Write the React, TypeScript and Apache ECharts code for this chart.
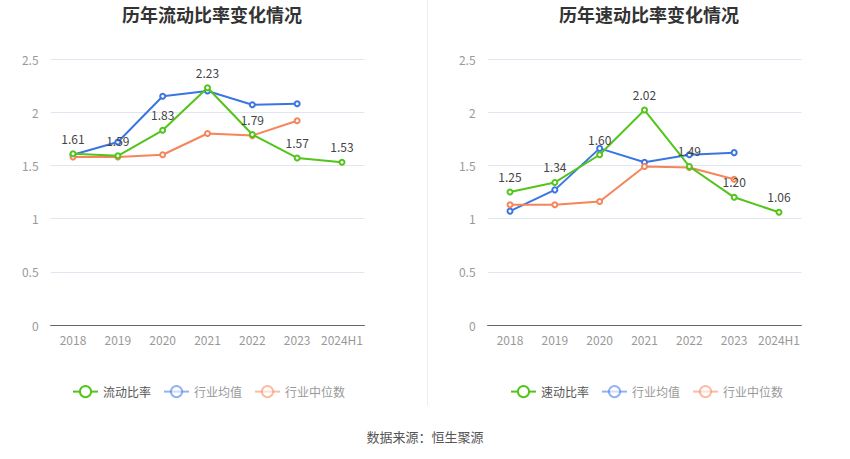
import React, { useEffect, useRef } from "react";
import * as echarts from "echarts";

const years = ["2018", "2019", "2020", "2021", "2022", "2023", "2024H1"];
const currentRatio = [1.61, 1.59, 1.83, 2.23, 1.79, 1.57, 1.53];
const currentMean = [1.6, 1.72, 2.15, 2.2, 2.07, 2.08];
const currentMedian = [1.58, 1.58, 1.6, 1.8, 1.78, 1.92];
const quickRatio = [1.25, 1.34, 1.6, 2.02, 1.49, 1.2, 1.06];
const quickMean = [1.07, 1.27, 1.66, 1.53, 1.6, 1.62];
const quickMedian = [1.13, 1.13, 1.16, 1.49, 1.48, 1.37];
const yTicks = [0, 0.5, 1, 1.5, 2, 2.5];

const FONT = "'Noto Sans CJK SC', 'Noto Sans', sans-serif";
const GREEN = "#52c41a";
const BLUE = "#3b75e3";
const ORANGE = "#f5855a";

export default function App() {
  const ref = useRef<HTMLDivElement>(null);
  useEffect(() => {
    document.body.style.margin = "0";
    const chart = echarts.init(ref.current!, null, { renderer: "svg" });
    const grids = [
      { left: 50.6, width: 313.8, top: 59, height: 266 },
      { left: 487.6, width: 313.8, top: 59, height: 266 },
    ];
    const mkX = (i: number) => ({
      type: "category",
      gridIndex: i,
      data: years,
      boundaryGap: true,
      axisLine: { lineStyle: { color: "#666" } },
      axisTick: { alignWithLabel: true, lineStyle: { color: "#666" } },
      axisLabel: { color: "#999", fontSize: 12, fontFamily: FONT, margin: 8, interval: 0 },
    });
    const mkY = (i: number) => ({
      type: "value",
      gridIndex: i,
      min: yTicks[0],
      max: yTicks[yTicks.length - 1],
      interval: 0.5,
      axisLine: { show: false },
      axisTick: { show: false },
      axisLabel: { color: "#999", fontSize: 12, fontFamily: FONT, margin: 12 },
      splitLine: { lineStyle: { color: "#e0e6f1" } },
    });
    const mkSeries = (name: string, data: number[], color: string, i: number, label: boolean) => ({
      type: "line",
      name,
      data,
      xAxisIndex: i,
      yAxisIndex: i,
      symbol: "emptyCircle",
      symbolSize: 5,
      lineStyle: { width: 2, color },
      itemStyle: { color, borderWidth: 1.5 },
      label: label
        ? {
            show: true,
            position: "top",
            color: "#444",
            fontSize: 12,
            fontFamily: FONT,
            distance: 6,
            formatter: (p: any) => Number(p.value).toFixed(2),
          }
        : { show: false },
      z: label ? 3 : 2,
    });
    const legendItems = (main: string) => [
      { name: main, textStyle: { color: "#555" } },
      {
        name: "行业均值",
        itemStyle: { opacity: 0.55 },
        lineStyle: { opacity: 0.55 },
        textStyle: { color: "#999" },
      },
      {
        name: "行业中位数",
        itemStyle: { opacity: 0.55 },
        lineStyle: { opacity: 0.55 },
        textStyle: { color: "#999" },
      },
    ];
    const titleStyle = { fontSize: 18, fontWeight: "bold", color: "#333", fontFamily: FONT };
    chart.setOption({
      animation: false,
      textStyle: { fontFamily: FONT },
      title: [
        { text: "历年流动比率变化情况", left: 207, textAlign: "center", top: 0, textStyle: titleStyle },
        { text: "历年速动比率变化情况", left: 644, textAlign: "center", top: 0, textStyle: titleStyle },
      ],
      legend: [
        {
          data: legendItems("流动比率"),
          left: 67,
          top: 380,
          itemWidth: 25,
          itemHeight: 14,
          itemGap: 12,
          textStyle: { fontSize: 12, fontFamily: FONT },
        },
        {
          data: legendItems("速动比率"),
          left: 505,
          top: 380,
          itemWidth: 25,
          itemHeight: 14,
          itemGap: 12,
          textStyle: { fontSize: 12, fontFamily: FONT },
        },
      ],
      grid: grids,
      xAxis: [mkX(0), mkX(1)],
      yAxis: [mkY(0), mkY(1)],
      series: [
        mkSeries("流动比率", currentRatio, GREEN, 0, true),
        mkSeries("行业均值", currentMean, BLUE, 0, false),
        mkSeries("行业中位数", currentMedian, ORANGE, 0, false),
        mkSeries("速动比率", quickRatio, GREEN, 1, true),
        mkSeries("行业均值", quickMean, BLUE, 1, false),
        mkSeries("行业中位数", quickMedian, ORANGE, 1, false),
      ],
      graphic: [
        {
          type: "line",
          shape: { x1: 427.5, y1: 0, x2: 427.5, y2: 406 },
          style: { stroke: "#eeeeee", lineWidth: 1 },
        },
        {
          type: "text",
          left: "center",
          top: 430,
          style: { text: "数据来源：恒生聚源", fill: "#555", fontSize: 13, fontFamily: FONT },
        },
      ],
    });
    return () => chart.dispose();
  }, []);
  return <div ref={ref} style={{ width: 850, height: 459 }} />;
}
